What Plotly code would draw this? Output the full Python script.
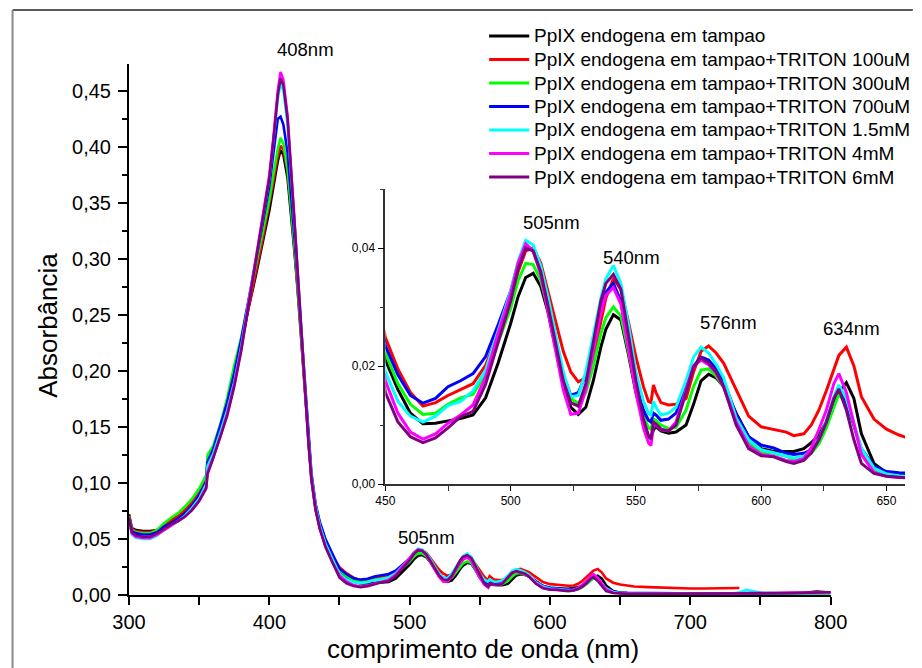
import plotly.graph_objects as go

# ---------------- data ----------------
wavelength = [
    300, 302, 305, 310, 315, 320, 325, 330, 335, 340, 345, 350, 355, 356, 360, 365, 370, 375, 380,
    385, 390, 395, 400, 403, 406, 408, 410, 413, 416, 418, 420, 422, 425, 428, 430, 433, 436, 440, 445,
    450, 455, 460, 465, 470, 475, 480, 485, 490, 495, 500,
    503, 506, 509, 512, 515, 518, 521, 524, 527,
    530, 533, 536,
    538, 541, 544, 547, 550, 553,
    555, 556, 557, 558, 560,
    563, 566, 570, 573, 576, 579, 582, 585,
    590, 595, 600, 605, 610,
    613, 617, 620, 623, 626, 629, 631, 634, 637, 640,
    645, 650, 655, 660,
    670, 680, 690, 700, 710, 720, 730, 735, 740, 750, 760, 770, 780, 790, 800,
]

black = [
    0.072, 0.060, 0.058, 0.057, 0.057, 0.058, 0.062, 0.066, 0.070, 0.075, 0.081, 0.090, 0.102, 0.118, 0.127, 0.145, 0.166, 0.190, 0.222,
    0.255, 0.283, 0.313, 0.343, 0.365, 0.387, 0.397, 0.393, 0.372, 0.335, 0.305, 0.275, 0.240, 0.185, 0.132, 0.103, 0.076, 0.060, 0.045, 0.031,
    0.0210, 0.0160, 0.0120, 0.0102, 0.0103, 0.0107, 0.0111, 0.0117, 0.0146, 0.0205, 0.0272,
    0.0318, 0.0350, 0.0357, 0.0335, 0.0290, 0.0228, 0.0168, 0.0130, 0.0118,
    0.0130, 0.0175, 0.0232,
    0.0262, 0.0287, 0.0278, 0.0220, 0.0155, 0.0105,
    0.0080, 0.0078, 0.0092, 0.0097, 0.0090,
    0.0086, 0.0088, 0.0100, 0.0135, 0.0175, 0.0186, 0.0180, 0.0165,
    0.0120, 0.0080, 0.0060, 0.0055, 0.0055,
    0.0055, 0.0060, 0.0070, 0.0083, 0.0105, 0.0135, 0.0155, 0.0172, 0.0145, 0.0085,
    0.0035, 0.0019, 0.0015, 0.0013,
    0.0012, 0.0011, 0.0011, 0.0011, 0.0011, 0.0011, 0.0012, 0.0012, 0.0012, 0.0013, 0.0014, 0.0015, 0.0018, 0.0030, 0.0022,
]

red = [
    0.071, 0.059, 0.057, 0.056, 0.056, 0.058, 0.063, 0.067, 0.071, 0.076, 0.083, 0.091, 0.103, 0.120, 0.128, 0.147, 0.168, 0.193, 0.225,
    0.257, 0.286, 0.316, 0.348, 0.370, 0.392, 0.401, 0.398, 0.378, 0.340, 0.310, 0.280, 0.245, 0.190, 0.136, 0.107, 0.080, 0.064, 0.049, 0.035,
    0.0248, 0.0195, 0.0155, 0.0132, 0.0138, 0.0150, 0.0160, 0.0170, 0.0201, 0.0255, 0.0315,
    0.0360, 0.0395, 0.0400, 0.0375, 0.0325, 0.0272, 0.0225, 0.0190, 0.0173,
    0.0180, 0.0215, 0.0275,
    0.0315, 0.0348, 0.0330, 0.0275, 0.0215, 0.0165,
    0.0140, 0.0138, 0.0168, 0.0155, 0.0138,
    0.0134, 0.0135, 0.0145, 0.0190, 0.0225, 0.0234, 0.0222, 0.0205,
    0.0160, 0.0115, 0.0097, 0.0092, 0.0088,
    0.0082, 0.0085, 0.0100, 0.0125, 0.0158, 0.0195, 0.0218, 0.0232, 0.0200, 0.0148,
    0.0110, 0.0093, 0.0083, 0.0076,
    0.0070, 0.0065, 0.0060, 0.0058, 0.0058, 0.0060, 0.0065, 0.0062, None, None, None, None, None, None, None,
]

green = [
    0.070, 0.058, 0.056, 0.055, 0.055, 0.058, 0.064, 0.069, 0.073, 0.079, 0.086, 0.095, 0.107, 0.125, 0.133, 0.152, 0.176, 0.205, 0.230,
    0.262, 0.292, 0.322, 0.353, 0.376, 0.398, 0.408, 0.403, 0.380, 0.342, 0.310, 0.280, 0.245, 0.190, 0.134, 0.105, 0.078, 0.062, 0.047, 0.033,
    0.0222, 0.0170, 0.0135, 0.0118, 0.0120, 0.0135, 0.0146, 0.0152, 0.0187, 0.0240, 0.0298,
    0.0345, 0.0374, 0.0372, 0.0345, 0.0295, 0.0235, 0.0180, 0.0145, 0.0137,
    0.0155, 0.0200, 0.0255,
    0.0282, 0.0300, 0.0285, 0.0225, 0.0160, 0.0115,
    0.0095, 0.0093, 0.0110, 0.0108, 0.0100,
    0.0094, 0.0096, 0.0125, 0.0165, 0.0193, 0.0195, 0.0183, 0.0165,
    0.0110, 0.0070, 0.0055, 0.0052, 0.0047,
    0.0042, 0.0045, 0.0052, 0.0068, 0.0095, 0.0130, 0.0152, 0.0135, 0.0098, 0.0055,
    0.0025, 0.0016, 0.0013, 0.0012,
    0.0011, 0.0010, 0.0010, 0.0010, 0.0010, 0.0010, 0.0010, 0.0010, 0.0011, 0.0012, 0.0012, 0.0013, 0.0014, 0.0016, 0.0017,
]

blue = [
    0.069, 0.057, 0.055, 0.054, 0.054, 0.056, 0.061, 0.064, 0.068, 0.073, 0.080, 0.089, 0.101, 0.119, 0.130, 0.150, 0.172, 0.198, 0.228,
    0.262, 0.295, 0.330, 0.365, 0.395, 0.425, 0.427, 0.420, 0.395, 0.352, 0.318, 0.285, 0.250, 0.195, 0.138, 0.109, 0.081, 0.065, 0.050, 0.036,
    0.0234, 0.0185, 0.0150, 0.0137, 0.0145, 0.0165, 0.0175, 0.0187, 0.0216, 0.0270, 0.0327,
    0.0375, 0.0405, 0.0395, 0.0360, 0.0305, 0.0245, 0.0185, 0.0150, 0.0155,
    0.0185, 0.0240, 0.0300,
    0.0325, 0.0340, 0.0310, 0.0240, 0.0170, 0.0125,
    0.0108, 0.0105, 0.0120, 0.0117, 0.0108,
    0.0110, 0.0120, 0.0165, 0.0200, 0.0215, 0.0210, 0.0195, 0.0175,
    0.0118, 0.0080, 0.0066, 0.0061, 0.0052,
    0.0050, 0.0052, 0.0058, 0.0075, 0.0105, 0.0145, 0.0164, 0.0140, 0.0100, 0.0060,
    0.0030, 0.0021, 0.0019, 0.0018,
    0.0016, 0.0015, 0.0014, 0.0014, 0.0014, 0.0014, 0.0014, 0.0015, 0.0016, 0.0015, 0.0015, 0.0015, 0.0016, 0.0018, 0.0019,
]

cyan = [
    0.067, 0.054, 0.051, 0.050, 0.050, 0.053, 0.058, 0.062, 0.066, 0.071, 0.078, 0.086, 0.099, 0.115, 0.126, 0.145, 0.165, 0.190, 0.222,
    0.260, 0.296, 0.334, 0.372, 0.405, 0.442, 0.457, 0.450, 0.420, 0.370, 0.330, 0.292, 0.252, 0.195, 0.137, 0.107, 0.079, 0.062, 0.046, 0.032,
    0.0190, 0.0140, 0.0115, 0.0105, 0.0115, 0.0133, 0.0140, 0.0158, 0.0193, 0.0260, 0.0327,
    0.0378, 0.0413, 0.0405, 0.0370, 0.0315, 0.0252, 0.0190, 0.0148, 0.0150,
    0.0190, 0.0250, 0.0315,
    0.0348, 0.0370, 0.0340, 0.0270, 0.0190, 0.0140,
    0.0120, 0.0117, 0.0140, 0.0130, 0.0117,
    0.0120, 0.0130, 0.0175, 0.0215, 0.0232, 0.0222, 0.0203, 0.0180,
    0.0112, 0.0075, 0.0058, 0.0053, 0.0047,
    0.0044, 0.0047, 0.0058, 0.0075, 0.0107, 0.0148, 0.0168, 0.0145, 0.0103, 0.0060,
    0.0027, 0.0017, 0.0014, 0.0012,
    0.0012, 0.0012, 0.0012, 0.0012, 0.0012, 0.0012, 0.0013, 0.0025, 0.0045, 0.0022, 0.0016, 0.0015, 0.0016, 0.0018, 0.0020,
]

magenta = [
    0.068, 0.055, 0.052, 0.051, 0.051, 0.054, 0.058, 0.062, 0.066, 0.070, 0.076, 0.084, 0.096, 0.110, 0.123, 0.141, 0.162, 0.188, 0.220,
    0.259, 0.296, 0.336, 0.375, 0.410, 0.450, 0.467, 0.460, 0.428, 0.375, 0.333, 0.292, 0.250, 0.192, 0.134, 0.104, 0.076, 0.059, 0.043, 0.029,
    0.0175, 0.0120, 0.0088, 0.0076, 0.0085, 0.0103, 0.0117, 0.0134, 0.0181, 0.0255, 0.0322,
    0.0375, 0.0407, 0.0395, 0.0355, 0.0290, 0.0220, 0.0160, 0.0118, 0.0120,
    0.0160, 0.0225, 0.0290,
    0.0320, 0.0333, 0.0305, 0.0230, 0.0155, 0.0095,
    0.0070, 0.0065, 0.0100, 0.0100, 0.0092,
    0.0090, 0.0105, 0.0160, 0.0200, 0.0210, 0.0202, 0.0188, 0.0165,
    0.0105, 0.0065, 0.0050, 0.0047, 0.0040,
    0.0038, 0.0043, 0.0062, 0.0092, 0.0125, 0.0170, 0.0187, 0.0155, 0.0100, 0.0050,
    0.0020, 0.0013, 0.0011, 0.0010,
    0.0010, 0.0010, 0.0010, 0.0010, 0.0010, 0.0010, 0.0010, 0.0012, 0.0017, 0.0018, 0.0018, 0.0018, 0.0020, 0.0023, 0.0025,
]

purple = [
    0.069, 0.056, 0.053, 0.052, 0.052, 0.055, 0.059, 0.063, 0.066, 0.070, 0.076, 0.084, 0.095, 0.108, 0.122, 0.140, 0.160, 0.186, 0.218,
    0.257, 0.295, 0.334, 0.372, 0.407, 0.446, 0.461, 0.455, 0.425, 0.373, 0.332, 0.292, 0.250, 0.192, 0.134, 0.104, 0.076, 0.059, 0.043, 0.029,
    0.0155, 0.0105, 0.0080, 0.0070, 0.0078, 0.0095, 0.0114, 0.0123, 0.0169, 0.0240, 0.0310,
    0.0365, 0.0400, 0.0395, 0.0360, 0.0300, 0.0235, 0.0175, 0.0138, 0.0132,
    0.0170, 0.0240, 0.0310,
    0.0340, 0.0355, 0.0330, 0.0255, 0.0175, 0.0110,
    0.0082, 0.0076, 0.0105, 0.0102, 0.0093,
    0.0090, 0.0100, 0.0155, 0.0198, 0.0214, 0.0205, 0.0190, 0.0165,
    0.0100, 0.0060, 0.0048, 0.0046, 0.0038,
    0.0035, 0.0040, 0.0053, 0.0075, 0.0105, 0.0145, 0.0161, 0.0125, 0.0075, 0.0035,
    0.0018, 0.0013, 0.0011, 0.0010,
    0.0010, 0.0010, 0.0010, 0.0010, 0.0010, 0.0010, 0.0010, 0.0011, 0.0015, 0.0016, 0.0016, 0.0017, 0.0019, 0.0022, 0.0024,
]

series_names = [
    "PpIX endogena em tampao",
    "PpIX endogena em tampao+TRITON 100uM",
    "PpIX endogena em tampao+TRITON 300uM",
    "PpIX endogena em tampao+TRITON 700uM",
    "PpIX endogena em tampao+TRITON 1.5mM",
    "PpIX endogena em tampao+TRITON 4mM",
    "PpIX endogena em tampao+TRITON 6mM",
]
series_values = [black, red, green, blue, cyan, magenta, purple]
series_colors = ["#000000", "#ff0000", "#00ff00", "#0000ff", "#00ffff", "#ff00ff", "#800080"]

main_peak_labels = ["408nm", "505nm"]
inset_peak_labels = ["505nm", "540nm", "576nm", "634nm"]

main_x_ticks = [300, 400, 500, 600, 700, 800]
inset_x_ticks = [450, 500, 550, 600, 650]

for v in series_values:
    assert len(v) == len(wavelength), (len(v), len(wavelength))

# ---------------- layout helpers ----------------
# The page body has an 8px margin, so the figure is drawn at (8, 8) in the window.
OFF = 8
W, H = 922 - OFF, 668 - OFF
ML, MR, MT, MB = 129 - OFF, 0, 64 - OFF, 668 - 595
PW, PH = W - ML - MR, H - MT - MB


def pxx(x):
    """window pixel x -> paper x"""
    return (x - OFF - ML) / PW


def pxy(y):
    """window pixel y -> paper y"""
    return (H - MB - (y - OFF)) / PH


FONT = "Liberation Sans, Arial, sans-serif"

fig = go.Figure()

for name, vals, col in zip(series_names, series_values, series_colors):
    fig.add_trace(go.Scatter(x=wavelength, y=vals, mode="lines", name=name,
                             line=dict(color=col, width=2.6), showlegend=False,
                             xaxis="x", yaxis="y", connectgaps=False))
for name, vals, col in zip(series_names, series_values, series_colors):
    fig.add_trace(go.Scatter(x=wavelength, y=vals, mode="lines", name=name,
                             line=dict(color=col, width=3), showlegend=False,
                             xaxis="x2", yaxis="y2", connectgaps=False))

axis_common = dict(showline=True, linecolor="#000000", showgrid=False, zeroline=False,
                   ticks="outside", tickcolor="#000000")

fig.update_layout(
    width=W, height=H,
    margin=dict(l=ML, r=MR, t=MT, b=MB, pad=0),
    paper_bgcolor="white", plot_bgcolor="rgba(0,0,0,0)",
    separators=",.",
    font=dict(family=FONT, color="#000000"),
    showlegend=False,
    xaxis=dict(axis_common, domain=[0, pxx(846)], range=[300, 800], anchor="y",
               tickvals=main_x_ticks, linewidth=2, ticklen=8, tickwidth=1.6,
               minor=dict(ticks="outside", dtick=50, ticklen=8, tickwidth=1.6, tickcolor="#000000"),
               tickfont=dict(size=20, family=FONT)),
    yaxis=dict(axis_common, domain=[0, 1], range=[0, 0.474], anchor="x",
               dtick=0.05, tick0=0, tickformat=".2f", linewidth=2, ticklen=9, tickwidth=1.6,
               ticklabelstandoff=3,
               minor=dict(ticks="outside", dtick=0.025, ticklen=5, tickwidth=1.6, tickcolor="#000000"),
               tickfont=dict(size=20, family=FONT)),
    xaxis2=dict(axis_common, domain=[pxx(391), 1], range=[450, 657.4], anchor="y2",
                tickvals=inset_x_ticks, linewidth=1.5, linecolor="#333333", ticklen=5, tickwidth=1.2,
                minor=dict(ticks="outside", dtick=25, ticklen=5, tickwidth=1.2, tickcolor="#333333"),
                tickfont=dict(size=12, family=FONT)),
    yaxis2=dict(axis_common, domain=[pxy(484), pxy(189)], range=[0, 0.05], anchor="x2",
                dtick=0.02, tick0=0, tickformat=".2f", linewidth=1.5, linecolor="#333333",
                ticklen=6, tickwidth=1.2,
                minor=dict(ticks="outside", dtick=0.01, ticklen=4, tickwidth=1.2, tickcolor="#333333"),
                tickfont=dict(size=12, family=FONT)),
)

annotations = []
shapes = []

# axis titles
annotations.append(dict(text="comprimento de onda (nm)", xref="paper", yref="paper",
                        x=pxx(491), y=pxy(649), xanchor="center", yanchor="middle",
                        showarrow=False, font=dict(size=26, family=FONT)))
annotations.append(dict(text="Absorbância", xref="paper", yref="paper", textangle=-90,
                        x=pxx(46), y=pxy(325), xanchor="center", yanchor="middle",
                        showarrow=False, font=dict(size=26, family=FONT)))

# peak labels
main_label_pos = [(309, 50), (433, 537)]
for txt, (lx, ly) in zip(main_peak_labels, main_label_pos):
    annotations.append(dict(text=txt, xref="paper", yref="paper", x=pxx(lx), y=pxy(ly),
                            xanchor="center", yanchor="middle", showarrow=False,
                            font=dict(size=18.5, family=FONT)))
inset_label_pos = [(561, 222), (642, 257), (742, 322), (867, 328)]
for txt, (lx, ly) in zip(inset_peak_labels, inset_label_pos):
    annotations.append(dict(text=txt, xref="paper", yref="paper", x=pxx(lx), y=pxy(ly),
                            xanchor="center", yanchor="middle", showarrow=False,
                            font=dict(size=18.5, family=FONT)))

# manual legend
row_y0, row_dy = 36, 23.5
for i, (name, col) in enumerate(zip(series_names, series_colors)):
    yy = row_y0 + i * row_dy
    shapes.append(dict(type="line", xref="paper", yref="paper",
                       x0=pxx(497), x1=pxx(538), y0=pxy(yy), y1=pxy(yy),
                       line=dict(color=col, width=3)))
    annotations.append(dict(text=name, xref="paper", yref="paper", x=pxx(541), y=pxy(yy),
                            xanchor="left", yanchor="middle", showarrow=False,
                            font=dict(size=19, family=FONT)))

# outer frame (top and left edges visible)
shapes.append(dict(type="line", xref="paper", yref="paper", x0=pxx(10), x1=pxx(930),
                   y0=pxy(10), y1=pxy(10), line=dict(color="#222222", width=1.5)))
shapes.append(dict(type="line", xref="paper", yref="paper", x0=pxx(10), x1=pxx(10),
                   y0=pxy(10), y1=pxy(680), line=dict(color="#888888", width=2)))

fig.update_layout(annotations=annotations, shapes=shapes)

fig.write_html("out.html")
